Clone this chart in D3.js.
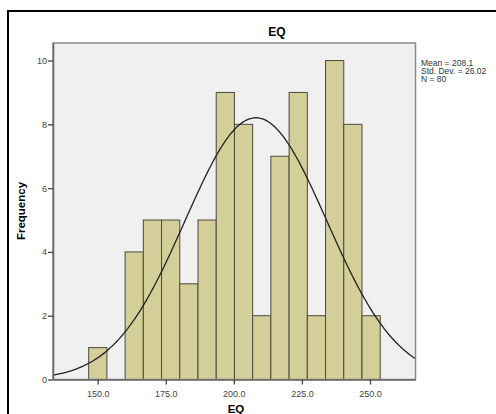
<!DOCTYPE html>
<head>
  <meta charset="utf-8">
  <script src="https://d3js.org/d3.v7.min.js"></script>
  <style>
body { margin: 0; background: white; }
svg { display: block; font-family: 'Liberation Sans', Arial, sans-serif; }
  </style>
</head>
<body>
<svg width="496" height="414"></svg>
<script>
// histogram of EQ, 16 bins
var binStart = 146.7;
var binWidth = 6.69;
var counts = [1, 0, 4, 5, 5, 3, 5, 9, 8, 2, 7, 9, 2, 10, 8, 2];
var xTicks = [150, 175, 200, 225, 250];
var yTicks = [0, 2, 4, 6, 8, 10];
var stats = ["Mean = 208.1", "Std. Dev. = 26.02", "N = 80"];
var mean = 208.1, sd = 26.02, n = 80;

var svg = d3.select("svg");

// outer frame
svg.append("rect")
   .attr("x", 8).attr("y", 11)
   .attr("width", 500).attr("height", 420)
   .attr("fill", "none")
   .attr("stroke", "black")
   .attr("stroke-width", 2);

var plotL = 53, plotR = 415.5, plotT = 43, plotB = 379.5;

var x = d3.scaleLinear().domain([133.6, 266.7]).range([plotL, plotR]);
var y = d3.scaleLinear().domain([0, 10.55]).range([plotB, plotT]);

svg.append("rect")
   .attr("x", plotL).attr("y", plotT)
   .attr("width", plotR - plotL).attr("height", plotB - plotT)
   .attr("fill", "#f0f0f0");

var bins = counts.map(function(c, i) {
  return {x0: binStart + i * binWidth, x1: binStart + (i + 1) * binWidth, c: c};
}).filter(function(d) { return d.c > 0; });

svg.selectAll(".bar")
   .data(bins)
   .enter()
   .append("rect")
   .attr("class", "bar")
   .attr("x", function(d) { return x(d.x0); })
   .attr("y", function(d) { return y(d.c); })
   .attr("width", function(d) { return x(d.x1) - x(d.x0); })
   .attr("height", function(d) { return y(0) - y(d.c); })
   .attr("fill", "#d4cf98")
   .attr("stroke", "#4a4a40")
   .attr("stroke-width", 1);

// normal curve scaled to counts
var curve = d3.range(0, 201).map(function(i) {
  var v = 133.6 + i * (266.7 - 133.6) / 200;
  var z = (v - mean) / sd;
  return [v, n * binWidth / (sd * Math.sqrt(2 * Math.PI)) * Math.exp(-0.5 * z * z)];
});

svg.append("path")
   .datum(curve)
   .attr("d", d3.line().x(function(d) { return x(d[0]); }).y(function(d) { return y(d[1]); }))
   .attr("fill", "none")
   .attr("stroke", "#222")
   .attr("stroke-width", 1.3);

// plot border
svg.append("rect")
   .attr("x", plotL).attr("y", plotT)
   .attr("width", plotR - plotL).attr("height", plotB - plotT)
   .attr("fill", "none")
   .attr("stroke", "#8a8a8a")
   .attr("stroke-width", 1.5);

var xAxis = svg.append("g")
   .attr("transform", "translate(0," + plotB + ")")
   .call(d3.axisBottom(x).tickValues(xTicks).tickFormat(d3.format(".1f")).tickSize(5).tickSizeOuter(0));

var yAxis = svg.append("g")
   .attr("transform", "translate(" + plotL + ",0)")
   .call(d3.axisLeft(y).tickValues(yTicks).tickSize(5).tickSizeOuter(0));

[xAxis, yAxis].forEach(function(g) {
  g.select(".domain").attr("stroke", "#666").attr("stroke-width", 1.5);
  g.selectAll(".tick line").attr("stroke", "#444").attr("stroke-width", 1.3);
  g.selectAll(".tick text")
   .attr("fill", "#444")
   .style("font-size", "9px")
   .style("font-family", "'Liberation Sans', Arial, sans-serif");
});
xAxis.selectAll(".tick text").attr("dy", "1.05em");
yAxis.selectAll(".tick text").attr("x", -6);

svg.append("text")
   .attr("x", 277).attr("y", 36)
   .attr("text-anchor", "middle")
   .style("font-size", "12px")
   .style("font-weight", "bold")
   .text("EQ");

svg.append("text")
   .attr("x", 236).attr("y", 413)
   .attr("text-anchor", "middle")
   .style("font-size", "11.5px")
   .style("font-weight", "bold")
   .text("EQ");

svg.append("text")
   .attr("transform", "translate(25,211) rotate(-90)")
   .attr("text-anchor", "middle")
   .style("font-size", "11.5px")
   .style("font-weight", "bold")
   .text("Frequency");

svg.selectAll(".stat")
   .data(stats)
   .enter()
   .append("text")
   .attr("class", "stat")
   .attr("x", 421)
   .attr("y", function(d, i) { return 66 + i * 8; })
   .style("font-size", "8.5px")
   .attr("fill", "#333")
   .text(function(d) { return d; });
</script>
</body>
</html>
